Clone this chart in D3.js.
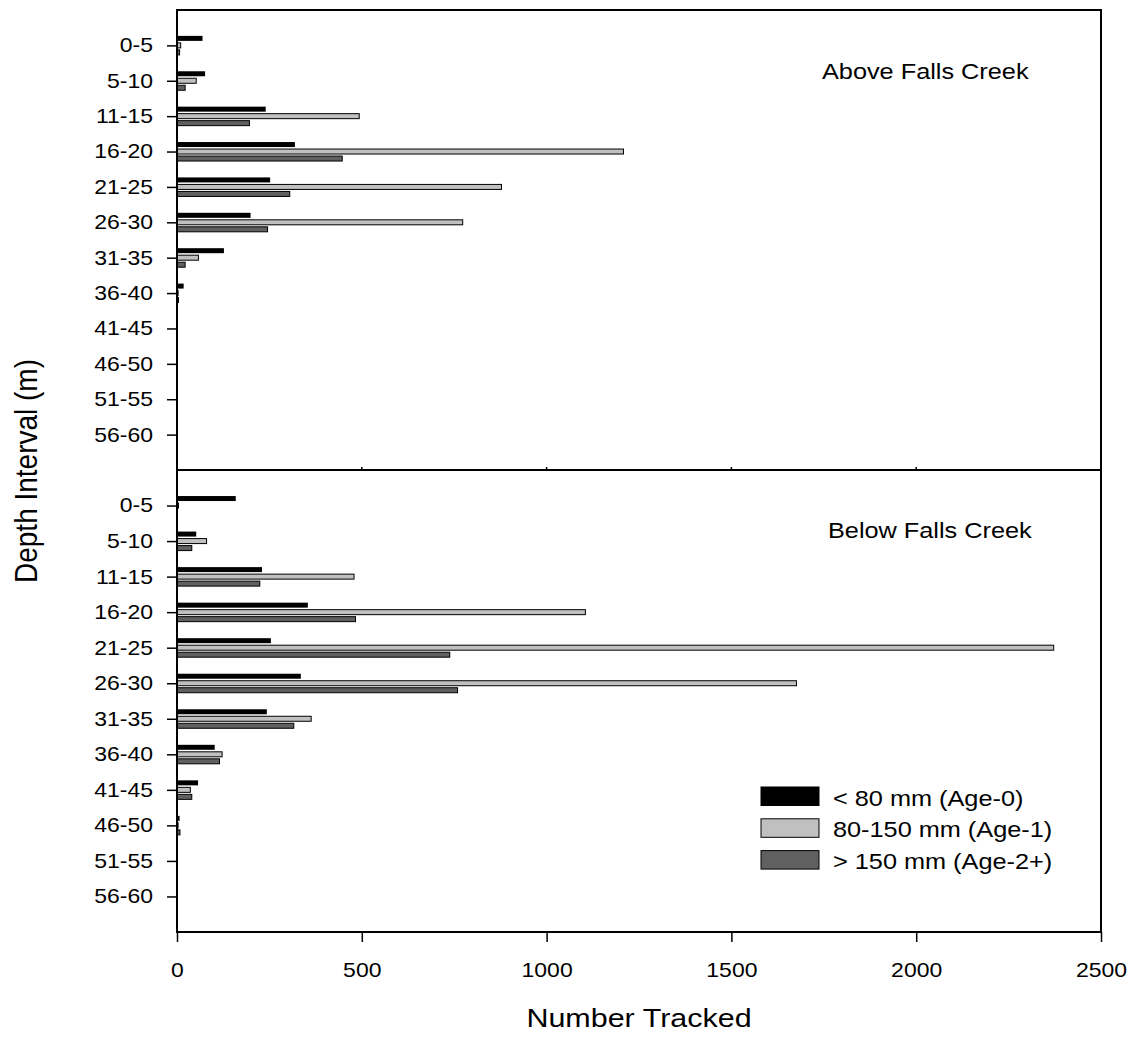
<!DOCTYPE html>
<html>
<head>
<meta charset="utf-8">
<script src="https://cdn.jsdelivr.net/npm/d3@7"></script>
<style>
  html, body { margin: 0; padding: 0; background: #fff; }
  text { font-family: "Liberation Sans", Arial, sans-serif; fill: #000; }
</style>
</head>
<body>
<svg id="chart" width="1134" height="1042"></svg>
<script>
// Depth intervals (m), shared by both panels
const depthIntervals = ["0-5", "5-10", "11-15", "16-20", "21-25", "26-30",
                        "31-35", "36-40", "41-45", "46-50", "51-55", "56-60"];

// Size classes
const sizeClasses = ["< 80 mm (Age-0)", "80-150 mm (Age-1)", "> 150 mm (Age-2+)"];

// Above Falls Creek: number tracked per depth interval
const aboveAge0  = [69, 76, 240, 319, 252, 199, 127, 18, 0, 0, 0, 0];
const aboveAge1  = [10, 52, 493, 1208, 878, 773, 58, 3, 0, 0, 0, 0];
const aboveAge2  = [7, 22, 196, 447, 305, 245, 22, 4, 0, 0, 0, 0];

// Below Falls Creek: number tracked per depth interval
const belowAge0  = [159, 52, 230, 354, 254, 335, 243, 102, 57, 7, 0, 0];
const belowAge1  = [4, 80, 479, 1105, 2372, 1676, 363, 122, 36, 3, 0, 0];
const belowAge2  = [0, 40, 224, 483, 738, 759, 316, 115, 40, 8, 0, 0];

const xTicks = [0, 500, 1000, 1500, 2000, 2500];

const panels = [
  { title: "Above Falls Creek", series: [aboveAge0, aboveAge1, aboveAge2] },
  { title: "Below Falls Creek", series: [belowAge0, belowAge1, belowAge2] }
];

const fills = ["#000000", "#c0c0c0", "#606060"];
const stretch = 1.15;   // horizontal widening of all lettering

const svg = d3.select("#chart");
const plotLeft = 177, plotRight = 1101, plotTop = 10, plotMid = 470, plotBottom = 932;

const x = d3.scaleLinear().domain([0, 2500]).range([plotLeft, plotRight]);

// widen text horizontally around its anchor point
function widen(sel) {
  sel.each(function () {
    const t = d3.select(this);
    const tx = +t.attr("x") || 0;
    const ty = +t.attr("y") || 0;
    t.attr("x", 0).attr("y", 0)
     .attr("transform", `translate(${tx},${ty}) scale(${stretch},1)`);
  });
}

const barH = 5, barStep = 7;
const panelRanges = [[plotTop, plotMid], [plotMid, plotBottom]];

panels.forEach((panel, pi) => {
  const [y0, y1] = panelRanges[pi];
  const y = d3.scalePoint().domain(depthIntervals).range([y0, y1]).padding(1);

  const g = svg.append("g");

  // bars, one group per size class
  panel.series.forEach((vals, si) => {
    g.append("g").selectAll("rect")
      .data(vals.map((v, i) => ({ v, cat: depthIntervals[i] })).filter(d => d.v > 0))
      .join("rect")
      .attr("x", x(0))
      .attr("y", d => y(d.cat) + (si - 1) * barStep - barH / 2)
      .attr("width", d => x(d.v) - x(0))
      .attr("height", barH)
      .attr("fill", fills[si])
      .attr("stroke", "#000")
      .attr("stroke-width", si === 0 ? 0 : 1);
  });

  // y axis (depth intervals)
  const ya = g.append("g")
    .attr("transform", `translate(${plotLeft},0)`)
    .call(d3.axisLeft(y).tickSize(10).tickPadding(14));
  ya.select(".domain").remove();
  ya.selectAll(".tick line").attr("stroke", "#000").attr("stroke-width", 1.5);
  ya.selectAll(".tick text")
    .attr("font-size", 20)
    .attr("font-family", "Liberation Sans, Arial, sans-serif")
    .attr("fill", "#000")
    .call(widen);

  // panel label
  g.append("text")
    .attr("x", 822 + pi * 6)
    .attr("y", pi === 0 ? 79 : 538)
    .attr("font-size", 22)
    .text(panel.title)
    .call(widen);
});

// x axis (bottom)
const xa = svg.append("g")
  .attr("transform", `translate(0,${plotBottom})`)
  .call(d3.axisBottom(x).tickValues(xTicks).tickSize(10).tickFormat(d3.format("d")));
xa.select(".domain").remove();
xa.selectAll(".tick line").attr("stroke", "#000").attr("stroke-width", 1.5);
xa.selectAll(".tick text")
  .attr("font-size", 20)
  .attr("font-family", "Liberation Sans, Arial, sans-serif")
  .attr("fill", "#000")
  .attr("dy", null)
  .attr("y", 45)
  .call(widen);

// small inner ticks on the panel divider
svg.append("g").selectAll("line")
  .data(xTicks.slice(1, -1))
  .join("line")
  .attr("x1", d => x(d)).attr("x2", d => x(d))
  .attr("y1", plotMid).attr("y2", plotMid - 3)
  .attr("stroke", "#000").attr("stroke-width", 1.5);

// frame and panel divider
svg.append("rect")
  .attr("x", plotLeft).attr("y", plotTop)
  .attr("width", plotRight - plotLeft).attr("height", plotBottom - plotTop)
  .attr("fill", "none").attr("stroke", "#000").attr("stroke-width", 2);
svg.append("line")
  .attr("x1", plotLeft).attr("x2", plotRight)
  .attr("y1", plotMid).attr("y2", plotMid)
  .attr("stroke", "#000").attr("stroke-width", 2);

// axis titles
svg.append("text")
  .attr("text-anchor", "middle")
  .attr("font-size", 26.5)
  .attr("transform", `translate(${(plotLeft + plotRight) / 2},1027) scale(${stretch},1)`)
  .text("Number Tracked");

svg.append("text")
  .attr("text-anchor", "middle")
  .attr("font-size", 28)
  .attr("transform", `translate(37,${(plotTop + plotBottom) / 2}) scale(${stretch},1) rotate(-90)`)
  .text("Depth Interval (m)");

// legend
const legend = svg.append("g");
sizeClasses.forEach((label, i) => {
  const ly = 787 + i * 31.8;
  legend.append("rect")
    .attr("x", 761).attr("y", ly)
    .attr("width", 58).attr("height", 18.5)
    .attr("fill", fills[i])
    .attr("stroke", "#000").attr("stroke-width", 1);
  legend.append("text")
    .attr("x", 833).attr("y", ly + 18.5)
    .attr("font-size", 22)
    .text(label)
    .call(widen);
});
</script>
</body>
</html>
